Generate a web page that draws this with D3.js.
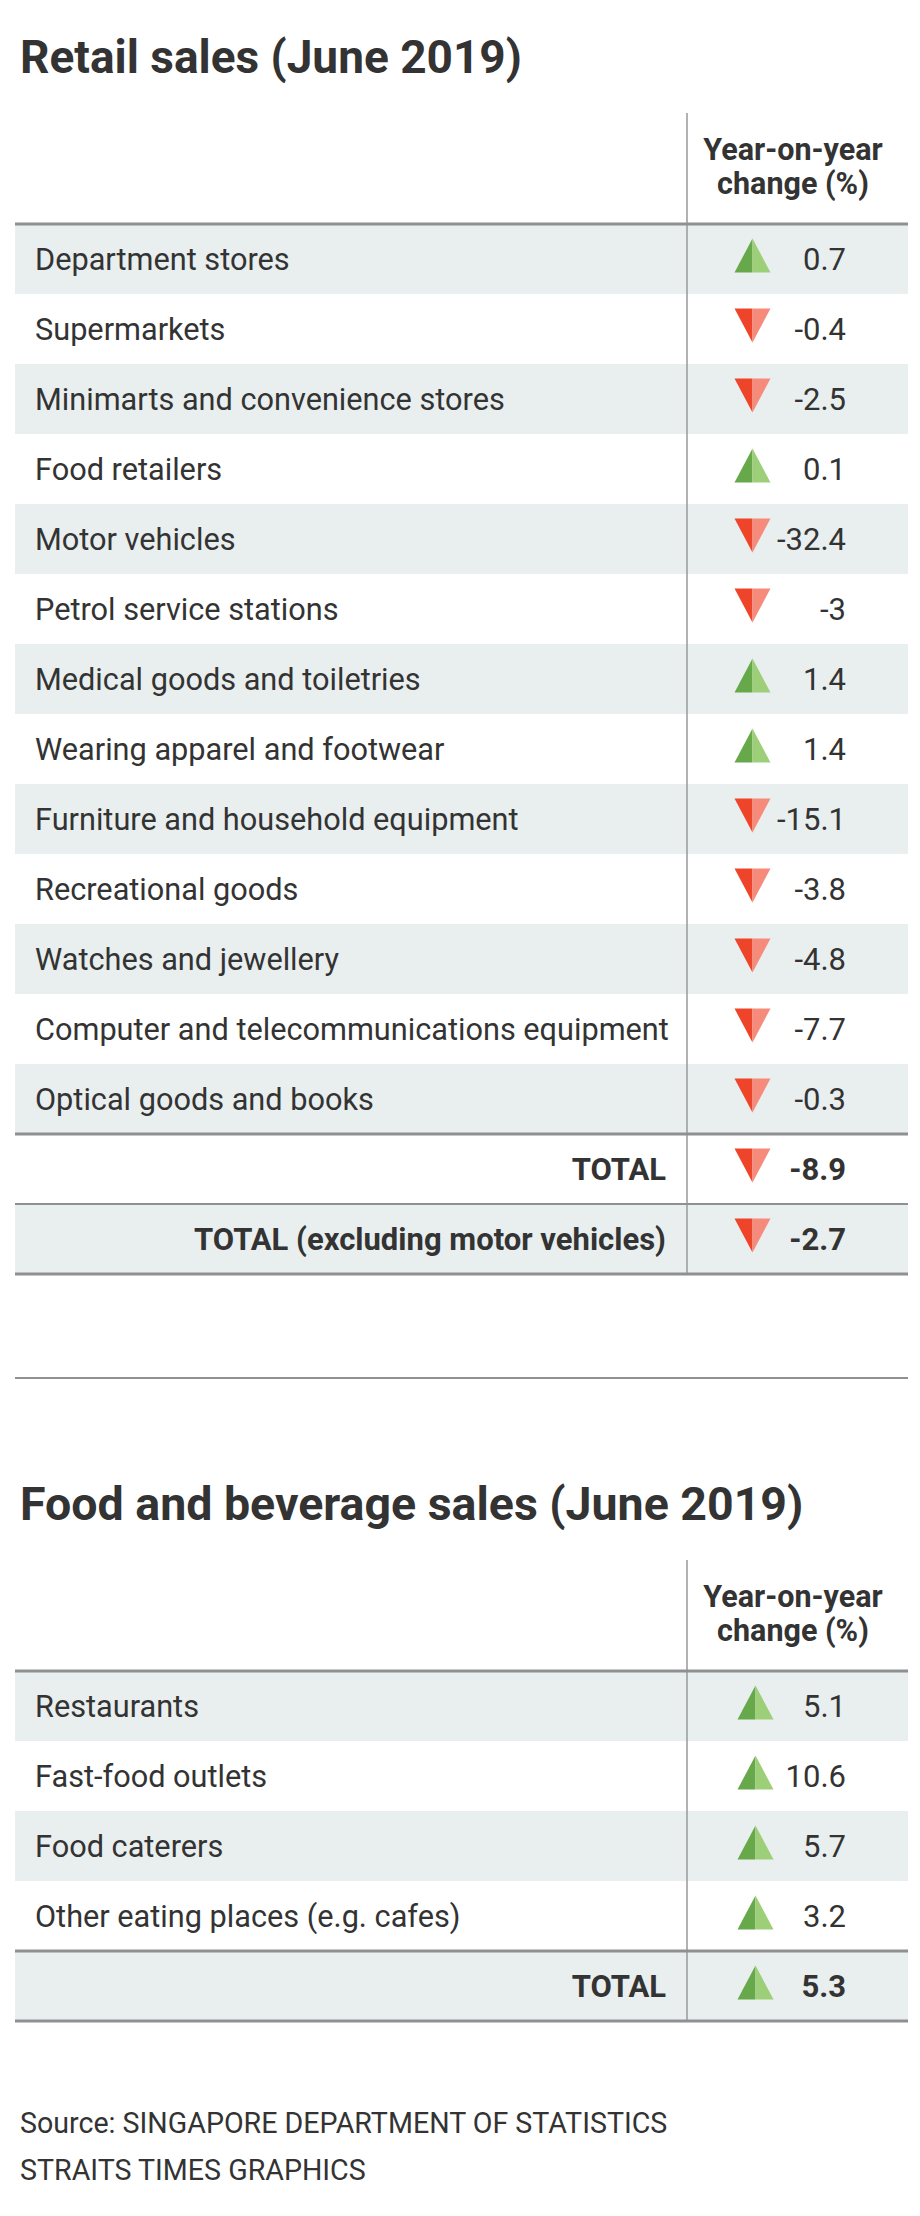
<html lang="en">
<head>
<meta charset="UTF-8">
<title>Retail and F&amp;B sales (June 2019)</title>
<script src="https://d3js.org/d3.v7.min.js"></script>
<style>
  body { margin: 0; background: #fff; }
  text { font-family: Roboto, "Noto Sans", sans-serif; fill: #333; }
</style>
</head>
<body>
<div id="chart"></div>
<script>

// retail sales, year-on-year change (%)
const retailCategories = [
  "Department stores", "Supermarkets", "Minimarts and convenience stores",
  "Food retailers", "Motor vehicles", "Petrol service stations",
  "Medical goods and toiletries", "Wearing apparel and footwear",
  "Furniture and household equipment", "Recreational goods",
  "Watches and jewellery", "Computer and telecommunications equipment",
  "Optical goods and books"
];
const retailValues = [0.7, -0.4, -2.5, 0.1, -32.4, -3, 1.4, 1.4, -15.1, -3.8, -4.8, -7.7, -0.3];
const retailTotalLabels = ["TOTAL", "TOTAL (excluding motor vehicles)"];
const retailTotalValues = [-8.9, -2.7];

// food and beverage sales
const foodCategories = ["Restaurants", "Fast-food outlets", "Food caterers", "Other eating places (e.g. cafes)"];
const foodValues = [5.1, 10.6, 5.7, 3.2];
const foodTotalLabels = ["TOTAL"];
const foodTotalValues = [5.3];

const headerLines = ["Year-on-year", "change (%)"];
const sourceLines = ["Source: SINGAPORE DEPARTMENT OF STATISTICS", "STRAITS TIMES GRAPHICS"];

const width = 920, height = 2216;
const left = 15, right = 908, divX = 687;
const rowH = 70;

const svg = d3.select("#chart")
  .append("svg")
  .attr("width", width)
  .attr("height", height);

function drawTable(title, titleSize, top, arrowX, categories, values, totalLabels, totalValues) {
  const g = svg.append("g");
  const rows = categories.map((c, i) => ({ label: c, value: values[i], total: false }))
    .concat(totalLabels.map((c, i) => ({ label: c, value: totalValues[i], total: true })));

  const headY = top + 111;
  const y = d3.scaleBand()
    .domain(d3.range(rows.length))
    .range([headY, headY + rows.length * rowH]);

  g.append("text")
    .attr("x", 20).attr("y", top - 40)
    .style("font-size", titleSize + "px").style("font-weight", 700)
    .text(title);

  // row bands
  g.selectAll("rect.band")
    .data(rows)
    .join("rect")
      .attr("x", left)
      .attr("y", (d, i) => y(i))
      .attr("width", right - left)
      .attr("height", y.bandwidth())
      .style("fill", (d, i) => i % 2 == 0 ? "#e9eeef" : "#fff");

  // header
  g.selectAll("text.head")
    .data(headerLines)
    .join("text")
      .attr("x", 793)
      .attr("y", (d, i) => top + 47 + i * 34)
      .attr("text-anchor", "middle")
      .style("font-size", "30.5px").style("font-weight", 700)
      .text(d => d);

  const bottom = y(rows.length - 1) + rowH;

  g.append("line")
    .attr("x1", divX).attr("x2", divX)
    .attr("y1", top).attr("y2", bottom)
    .style("stroke", "#999").style("stroke-width", 1.5);

  // horizontal rules
  const firstTotal = categories.length;
  const rules = [{ y: headY, w: 3 }, { y: y(firstTotal), w: 3 }, { y: bottom, w: 3 }];
  for (let i = firstTotal + 1; i < rows.length; i++) rules.push({ y: y(i), w: 2 });
  g.selectAll("line.rule")
    .data(rules)
    .join("line")
      .attr("x1", left).attr("x2", right)
      .attr("y1", d => d.y).attr("y2", d => d.y)
      .style("stroke", "#8e9091")
      .style("stroke-width", d => d.w);

  const row = g.selectAll("g.row")
    .data(rows)
    .join("g")
      .attr("transform", (d, i) => `translate(0, ${y(i) + rowH / 2})`);

  row.append("text")
    .attr("x", d => d.total ? 666 : 35)
    .attr("y", 11)
    .attr("text-anchor", d => d.total ? "end" : "start")
    .style("font-size", d => d.total ? "31px" : "30.7px")
    .style("font-weight", d => d.total ? 700 : 400)
    .text(d => d.label);

  row.append("text")
    .attr("x", 846)
    .attr("y", 11)
    .attr("text-anchor", "end")
    .style("font-size", "31px")
    .style("font-weight", d => d.total ? 700 : 400)
    .text(d => String(d.value));

  // arrows, split in a dark and a light half
  const cx = arrowX, tw = 18, th = 17, cy = -3.5;
  row.append("path")
    .attr("d", d => d.value >= 0
      ? `M${cx},${cy - th}L${cx - tw},${cy + th}L${cx},${cy + th}Z`
      : `M${cx},${cy + th}L${cx - tw},${cy - th}L${cx},${cy - th}Z`)
    .style("fill", d => d.value >= 0 ? "#66a84a" : "#ee4429");
  row.append("path")
    .attr("d", d => d.value >= 0
      ? `M${cx},${cy - th}L${cx + tw},${cy + th}L${cx},${cy + th}Z`
      : `M${cx},${cy + th}L${cx + tw},${cy - th}L${cx},${cy - th}Z`)
    .style("fill", d => d.value >= 0 ? "#9dcf78" : "#f68b7c");
}

drawTable("Retail sales (June 2019)", 46, 113, 752.5, retailCategories, retailValues, retailTotalLabels, retailTotalValues);

svg.append("line")
  .attr("x1", left).attr("x2", right)
  .attr("y1", 1378).attr("y2", 1378)
  .style("stroke", "#8e9091").style("stroke-width", 2);

drawTable("Food and beverage sales (June 2019)", 46.5, 1560, 755.5, foodCategories, foodValues, foodTotalLabels, foodTotalValues);

svg.selectAll("text.source")
  .data(sourceLines)
  .join("text")
    .attr("x", 20)
    .attr("y", (d, i) => 2133 + i * 47)
    .style("font-size", "28.6px")
    .text(d => d);

</script>
</body>
</html>
